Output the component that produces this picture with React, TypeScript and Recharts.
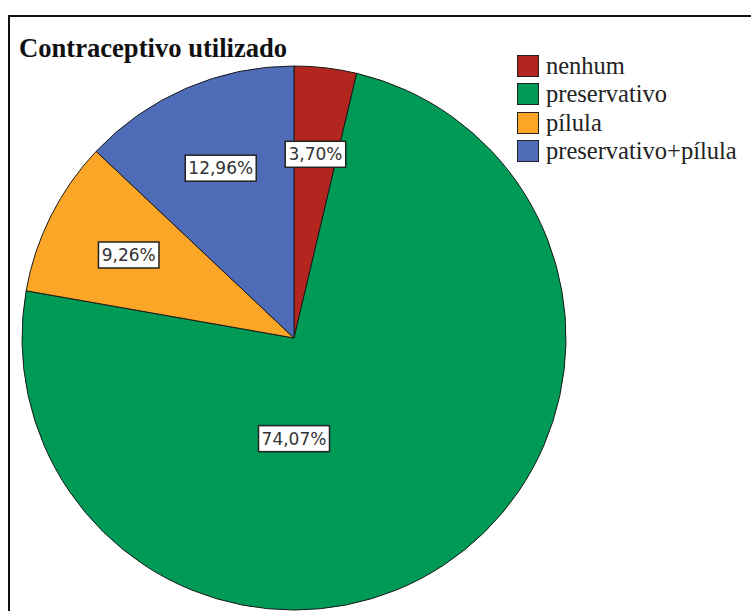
import { PieChart, Pie, Cell, Legend } from 'recharts';

const categories = ['nenhum', 'preservativo', 'pílula', 'preservativo+pílula'];
const counts = [2, 40, 5, 7];
const colors = ['#B3261F', '#009A57', '#FBA626', '#4E6CB7'];

const data = categories.map((name, i) => ({ name, value: counts[i] }));

const RAD = Math.PI / 180;

// SPSS-style boxed percentage; the dominant slice gets its box dropped below the centre
function renderLabel(props: any) {
  const { cx, cy, midAngle, outerRadius, percent } = props;
  const big = percent > 0.5;
  const angle = big ? -90 : midAngle;
  const r = outerRadius * (big ? 0.37 : 0.68);
  const x = cx + r * Math.cos(-angle * RAD);
  const y = cy + r * Math.sin(-angle * RAD);
  const text = (percent * 100).toFixed(2).replace('.', ',') + '%';
  const w = text.length * 10.5 + 8;
  const h = 26;
  return (
    <g>
      <rect x={x - w / 2} y={y - h / 2} width={w} height={h} fill="#fff" stroke="#222" strokeWidth={1.5} />
      <text
        x={x}
        y={y}
        textAnchor="middle"
        dominantBaseline="central"
        fontFamily="'DejaVu Sans', sans-serif"
        fontSize={17}
        fill="#333"
      >
        {text}
      </text>
    </g>
  );
}

// legend keeps the category order instead of sorting by name
function LegendBox() {
  return (
    <div style={{ fontFamily: "'Liberation Serif', 'Times New Roman', serif", fontSize: 24.5, color: '#222' }}>
      {categories.map((name, i) => (
        <div key={name} style={{ display: 'flex', alignItems: 'center', height: 28.3, whiteSpace: 'nowrap' }}>
          <span
            style={{
              display: 'inline-block',
              width: 22,
              height: 22,
              background: colors[i],
              border: '1.5px solid #222',
              marginRight: 7,
              boxSizing: 'border-box',
            }}
          />
          <span style={{ lineHeight: '28px' }}>{name}</span>
        </div>
      ))}
    </div>
  );
}

export default function App() {
  return (
    <div style={{ position: 'fixed', left: 0, top: 0, width: 751, height: 611, overflow: 'hidden', background: '#fff' }}>
      <div
        style={{
          position: 'absolute',
          left: 8,
          top: 15,
          width: 780,
          height: 640,
          border: '2px solid #111',
          boxSizing: 'border-box',
        }}
      />
      <div
        style={{
          position: 'absolute',
          left: 19,
          top: 33,
          fontFamily: "'Liberation Serif', 'Times New Roman', serif",
          fontWeight: 'bold',
          fontSize: 26.6,
          lineHeight: '30px',
          color: '#111',
          whiteSpace: 'nowrap',
        }}
      >
        Contraceptivo utilizado
      </div>
      <div style={{ position: 'absolute', left: 0, top: 0 }}>
        <PieChart width={751} height={611} margin={{ top: 0, right: 0, bottom: 0, left: 0 }}>
          <Pie
            data={data}
            dataKey="value"
            nameKey="name"
            cx={294}
            cy={338}
            outerRadius={272}
            startAngle={90}
            endAngle={-270}
            stroke="#1a1a1a"
            strokeWidth={1}
            label={renderLabel}
            labelLine={false}
            isAnimationActive={false}
          >
            {data.map((d, i) => (
              <Cell key={d.name} fill={colors[i]} />
            ))}
          </Pie>
          <Legend
            content={<LegendBox />}
            wrapperStyle={{ position: 'absolute', left: 517, top: 52, width: 230 }}
          />
        </PieChart>
      </div>
    </div>
  );
}
